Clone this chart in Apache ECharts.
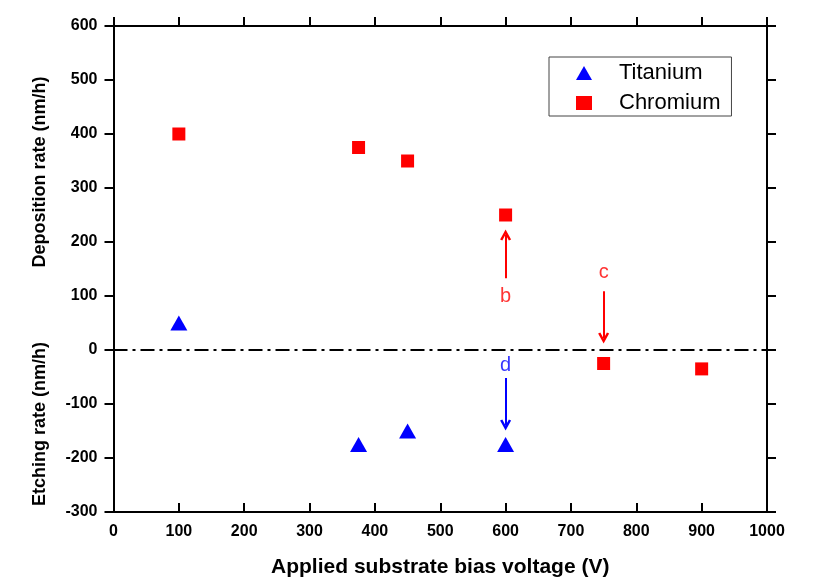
<!DOCTYPE html>
<html><head><meta charset="utf-8">
<script src="https://cdn.jsdelivr.net/npm/echarts@6/dist/echarts.min.js"></script>
<style>html,body{margin:0;padding:0;background:#fff}#c{width:832px;height:588px}</style>
</head><body><div id="c"></div>
<script>
const xTicks = [0,100,200,300,400,500,600,700,800,900,1000];
const yTicks = [-300,-200,-100,0,100,200,300,400,500,600];
const titaniumX = [100, 375, 450, 600];
const titaniumY = [50, -175, -150, -175];
const chromiumX = [100, 375, 450, 600, 750, 900];
const chromiumY = [400, 375, 350, 250, -25, -35];
// annotation arrows
const arrowX = [600, 750, 600];
const arrowFrom = [133, 109, -52];
const arrowTo = [213, 22, -139];
const labelText = ['b', 'c', 'd'];
const labelY = [100, 144, -28];
const annColor = ['#ff0000', '#ff0000', '#0000ff'];

const FONT = 'Liberation Sans, Arial, sans-serif';
const chart = echarts.init(document.getElementById('c'));
const axisLine = {show: true, onZero: false, lineStyle: {color: '#000', width: 2}};
const chevron = 'path://M0,10 L5,0 L10,10 L8,11 L5,5 L2,11 Z';
const arrowLines = arrowX.map((x, i) => [
  {coord: [x, arrowFrom[i]], symbol: 'none', lineStyle: {color: annColor[i], width: 2, type: 'solid'}},
  {coord: [x, arrowTo[i]], symbol: chevron, symbolSize: [11, 11], itemStyle: {color: annColor[i]}}
]);
const zeroLine = [{coord: [0, 0], symbol: 'none', lineStyle: {color: '#000', width: 2, type: [14, 5, 3, 5]}}, {coord: [1000, 0], symbol: 'none'}];
chart.setOption({
  animation: false,
  grid: {left: 113.5, right: 65, top: 26, bottom: 76},
  xAxis: [
    {type: 'value', min: 0, max: 1000, interval: 100, position: 'bottom',
     axisLine, splitLine: {show: false},
     axisTick: {show: true, inside: true, length: 9, lineStyle: {color: '#000', width: 2}},
     axisLabel: {color: '#000', fontFamily: FONT, fontWeight: 'bold', fontSize: 16, margin: 12, formatter: v => String(v)},
     name: 'Applied substrate bias voltage (V)', nameLocation: 'middle', nameGap: 45,
     nameTextStyle: {color: '#000', fontFamily: FONT, fontWeight: 'bold', fontSize: 21}},
    {type: 'value', min: 0, max: 1000, interval: 100, position: 'top',
     axisLine, splitLine: {show: false},
     axisTick: {show: true, inside: false, length: 9, lineStyle: {color: '#000', width: 2}},
     axisLabel: {show: false}}
  ],
  yAxis: [
    {type: 'value', min: -300, max: 600, interval: 100, position: 'left',
     axisLine, splitLine: {show: false},
     axisTick: {show: true, inside: false, length: 9, lineStyle: {color: '#000', width: 2}},
     axisLabel: {color: '#000', fontFamily: FONT, fontWeight: 'bold', fontSize: 16, margin: 16}},
    {type: 'value', min: -300, max: 600, interval: 100, position: 'right',
     axisLine, splitLine: {show: false},
     axisTick: {show: true, inside: false, length: 9, lineStyle: {color: '#000', width: 2}},
     axisLabel: {show: false}}
  ],
  legend: {
    left: 549, top: 57, orient: 'vertical', itemGap: 8,
    borderColor: '#444', borderWidth: 1, borderRadius: 0,
    padding: [5, 11, 2, 27],
    itemWidth: 16, itemHeight: 14,
    textStyle: {color: '#000', fontFamily: FONT, fontSize: 22, padding: [0, 0, 0, 22]},
    data: [{name: 'Titanium', icon: 'triangle'}, {name: 'Chromium', icon: 'rect'}]
  },
  graphic: [
    {type: 'text', x: 40, y: 172, rotation: Math.PI / 2,
     style: {text: 'Deposition rate (nm/h)', fill: '#000', font: 'bold 18px ' + FONT, align: 'center', verticalAlign: 'middle'}},
    {type: 'text', x: 40, y: 424, rotation: Math.PI / 2,
     style: {text: 'Etching rate (nm/h)', fill: '#000', font: 'bold 18px ' + FONT, align: 'center', verticalAlign: 'middle'}}
  ],
  series: [
    {name: 'Titanium', type: 'scatter', symbol: 'triangle', symbolSize: [17, 15],
     itemStyle: {color: '#0000ff', opacity: 1},
     data: titaniumX.map((x, i) => [x, titaniumY[i]]), z: 5},
    {name: 'Chromium', type: 'scatter', symbol: 'rect', symbolSize: 13,
     itemStyle: {color: '#ff0000', opacity: 1},
     data: chromiumX.map((x, i) => [x, chromiumY[i]]), z: 5},
    {name: 'annotations', type: 'scatter', symbolSize: 0, silent: true,
     data: labelText.map((t, i) => ({value: [arrowX[i], labelY[i]],
       label: {show: true, position: 'inside', formatter: t, color: annColor[i], fontFamily: FONT, fontSize: 20}})),
     markLine: {silent: true, label: {show: false}, animation: false,
       data: arrowLines.concat([zeroLine])}
    }
  ]
});
</script></body></html>
